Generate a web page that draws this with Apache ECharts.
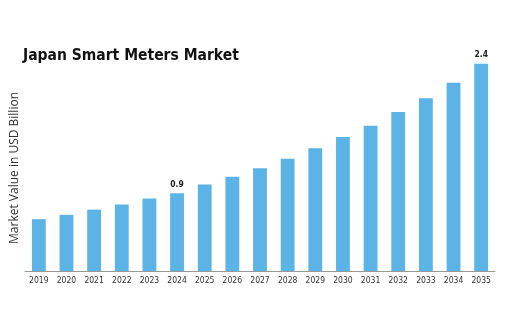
<!DOCTYPE html>
<html>
<head>
<meta charset="utf-8">
<script src="https://cdn.jsdelivr.net/npm/echarts@6/dist/echarts.min.js"></script>
<style>
  html, body { margin: 0; padding: 0; background: #ffffff; }
  #chart { width: 510px; height: 328px; }
</style>
</head>
<body>
<div id="chart"></div>
<script>
// Japan smart meters market size, USD billion
const years = ['2019','2020','2021','2022','2023','2024','2025','2026','2027',
               '2028','2029','2030','2031','2032','2033','2034','2035'];
const marketValue = [0.60, 0.65, 0.71, 0.77, 0.84, 0.9, 1.00, 1.09, 1.19,
                     1.30, 1.42, 1.55, 1.68, 1.84, 2.00, 2.18, 2.4];
// only these years carry a value label
const labelledYears = ['2024', '2035'];

const chart = echarts.init(document.getElementById('chart'), null, { renderer: 'canvas' });

chart.setOption({
  animation: false,
  backgroundColor: '#ffffff',
  title: {
    text: 'Japan Smart Meters Market',
    left: 18,
    top: 43,
    textStyle: {
      fontFamily: 'DejaVu Sans Condensed',
      fontWeight: 'bold',
      fontSize: 15.5,
      color: '#111111'
    }
  },
  grid: { left: 25, right: 15, top: 55, bottom: 57 },
  xAxis: {
    type: 'category',
    data: years,
    axisLine: { show: true, lineStyle: { color: '#999999', width: 1 } },
    axisTick: { show: false },
    axisLabel: {
      fontFamily: 'DejaVu Sans Condensed',
      fontSize: 8.5,
      color: '#333333',
      margin: 5
    }
  },
  yAxis: {
    type: 'value',
    min: 0,
    max: 2.5,
    name: 'Market Value in USD Billion',
    nameLocation: 'middle',
    nameGap: 4,
    nameTextStyle: {
      fontFamily: 'Open Sans',
      fontSize: 12,
      color: '#333333',
      padding: [0, 10, 0, 0]
    },
    axisLine: { show: false },
    axisTick: { show: false },
    axisLabel: { show: false },
    splitLine: { show: false }
  },
  series: [{
    type: 'bar',
    data: marketValue.map((v, i) => ({
      value: v,
      label: { show: labelledYears.includes(years[i]) }
    })),
    barWidth: '50%',
    itemStyle: { color: '#5BB3E6' },
    label: {
      position: 'top',
      distance: 4,
      fontFamily: 'DejaVu Sans Condensed',
      fontWeight: 'bold',
      fontSize: 8.5,
      color: '#222222',
      formatter: p => p.value.toFixed(1)
    }
  }]
});
</script>
</body>
</html>
